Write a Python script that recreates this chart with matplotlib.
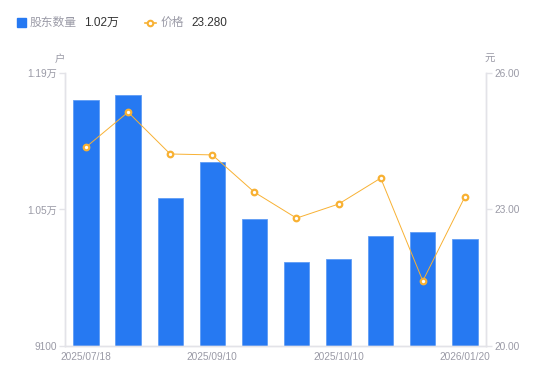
import numpy as np
import matplotlib.pyplot as plt
from matplotlib.lines import Line2D

plt.rcParams['font.family'] = ['Liberation Sans', 'Noto Sans CJK SC', 'DejaVu Sans']

dates = ['2025/07/18', '', '', '2025/09/10', '', '', '2025/10/10', '', '', '2026/01/20']
holders = [11620, 11670, 10620, 10990, 10400, 9960, 9990, 10230, 10270, 10200]
price = [24.37, 25.14, 24.22, 24.20, 23.38, 22.81, 23.12, 23.69, 21.43, 23.28]

left_ticks = [9100, 10500, 11900]
left_labels = ['9100', '1.05万', '1.19万']
right_ticks = [20, 23, 26]

blue = '#2679f2'
orange = '#f8b133'
grey_txt = '#9a9aa6'
axis_col = '#e3e3e8'

fig = plt.figure(figsize=(5.5, 3.81), dpi=100)
ax = fig.add_axes([0.118, 0.0919, 0.7656, 0.7165])
x = np.arange(len(holders))

ax.bar(x, holders, width=0.6, color=blue, edgecolor='#5f9cf5', linewidth=0.6, zorder=2)
ax.set_xlim(-0.5, len(holders) - 0.5)
ax.set_ylim(9100, 11900)
ax.set_yticks(left_ticks)
ax.set_yticklabels(left_labels)
ax.set_xticks(x)
ax.set_xticklabels(dates)

ax2 = ax.twinx()
ax2.plot(x, price, color=orange, lw=0.7, marker='o', ms=4, mfc='white',
         mec=orange, mew=1.6, zorder=3)
ax2.set_ylim(20, 26)
ax2.set_yticks(right_ticks)
ax2.set_yticklabels([f'{v:.2f}' for v in right_ticks])

for a in (ax, ax2):
    a.spines['top'].set_visible(False)
    for s in ('left', 'right', 'bottom'):
        a.spines[s].set_color(axis_col)
        a.spines[s].set_linewidth(1)
    a.tick_params(axis='y', colors=axis_col, labelcolor=grey_txt, labelsize=7.3,
                  length=4, width=1, pad=2)
    a.tick_params(axis='x', length=0, labelcolor=grey_txt, labelsize=7.3, pad=4)

fig.text(0.109, 0.838, '户', color=grey_txt, fontsize=7.5, ha='center')
fig.text(0.89, 0.838, '元', color=grey_txt, fontsize=7.5, ha='center')

# legend row
fig.patches.append(plt.Rectangle((0.03, 0.929), 0.017, 0.025, color=blue,
                                 transform=fig.transFigure, figure=fig))
fig.text(0.054, 0.94, '股东数量', color=grey_txt, fontsize=8.5, va='center')
fig.text(0.153, 0.94, '1.02万', color='#333333', fontsize=8.5, va='center')
fig.add_artist(Line2D([0.263, 0.283], [0.94, 0.94], color=orange, lw=1.2,
                      transform=fig.transFigure))
fig.add_artist(Line2D([0.273], [0.94], color=orange, marker='o', ms=4, mfc='white',
                      mec=orange, mew=1.5, transform=fig.transFigure))
fig.text(0.292, 0.94, '价格', color=grey_txt, fontsize=8.5, va='center')
fig.text(0.348, 0.94, '23.280', color='#333333', fontsize=8.5, va='center')

fig.savefig('out.png', dpi=100)
